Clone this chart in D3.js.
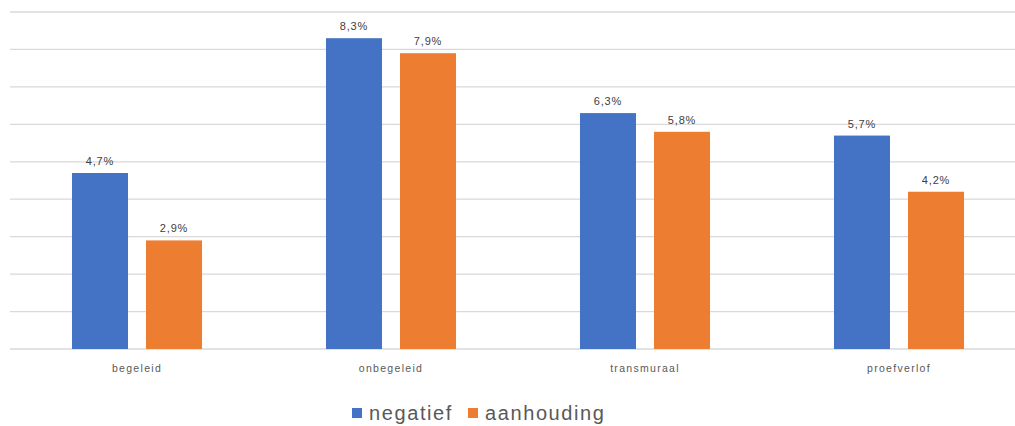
<!DOCTYPE html>
<html><head><meta charset="utf-8">
<script src="https://cdn.jsdelivr.net/npm/d3@7"></script>
<style>html,body{margin:0;padding:0;background:#fff;}svg{display:block;font-family:"Liberation Sans",Arial,sans-serif;}</style>
</head><body>
<svg id="c" width="1015" height="426"></svg>
<script>
const categories = ["begeleid", "onbegeleid", "transmuraal", "proefverlof"];
const seriesNames = ["negatief", "aanhouding"];
const negatief = [4.7, 8.3, 6.3, 5.7];
const aanhouding = [2.9, 7.9, 5.8, 4.2];
const labelsNegatief = ["4,7%", "8,3%", "6,3%", "5,7%"];
const labelsAanhouding = ["2,9%", "7,9%", "5,8%", "4,2%"];
const yTicks = [0,1,2,3,4,5,6,7,8,9];
const colors = ["#4472C4", "#ED7D31"];

const svg = d3.select("#c");
const plotTop = 12, plotBottom = 349;
const y = d3.scaleLinear().domain([0, 9]).range([plotBottom, plotTop]);
const x0 = d3.scaleBand().domain(categories).range([10, 1026]).paddingInner(0.488).paddingOuter(0.244);
const x1 = d3.scaleBand().domain(seriesNames).range([0, x0.bandwidth()]).paddingInner(0.243).paddingOuter(0);

svg.append("g").selectAll("line").data(yTicks).join("line")
  .attr("x1", 10).attr("x2", 1015)
  .attr("y1", d => y(d)).attr("y2", d => y(d))
  .attr("stroke", "#d9d9d9").attr("stroke-width", 1.3);

const data = [negatief, aanhouding];
const labels = [labelsNegatief, labelsAanhouding];
seriesNames.forEach((s, si) => {
  const g = svg.append("g");
  g.selectAll("rect").data(categories).join("rect")
    .attr("x", c => x0(c) + x1(s))
    .attr("width", x1.bandwidth())
    .attr("y", (c, i) => y(data[si][i]))
    .attr("height", (c, i) => plotBottom - y(data[si][i]))
    .attr("fill", colors[si]);
  g.selectAll("text").data(categories).join("text")
    .attr("x", c => x0(c) + x1(s) + x1.bandwidth() / 2)
    .attr("y", (c, i) => y(data[si][i]) - 8)
    .attr("text-anchor", "middle")
    .attr("font-size", 11).attr("letter-spacing", 0.8)
    .attr("fill", "#404040")
    .text((c, i) => labels[si][i]);
});

svg.append("g").selectAll("text").data(categories).join("text")
  .attr("x", c => x0(c) + x0.bandwidth() / 2)
  .attr("y", 372)
  .attr("text-anchor", "middle")
  .attr("font-size", 10.5).attr("letter-spacing", 1.3)
  .attr("fill", "#595959")
  .text(c => c);

const legend = svg.append("g");
const legX = [352, 468];
seriesNames.forEach((s, i) => {
  legend.append("rect").attr("x", legX[i]).attr("y", 408).attr("width", 10).attr("height", 10).attr("fill", colors[i]);
  legend.append("text").attr("x", legX[i] + 17).attr("y", 420)
    .attr("font-size", 20).attr("letter-spacing", 1.6).attr("fill", "#595959").text(s);
});
</script>
</body></html>
